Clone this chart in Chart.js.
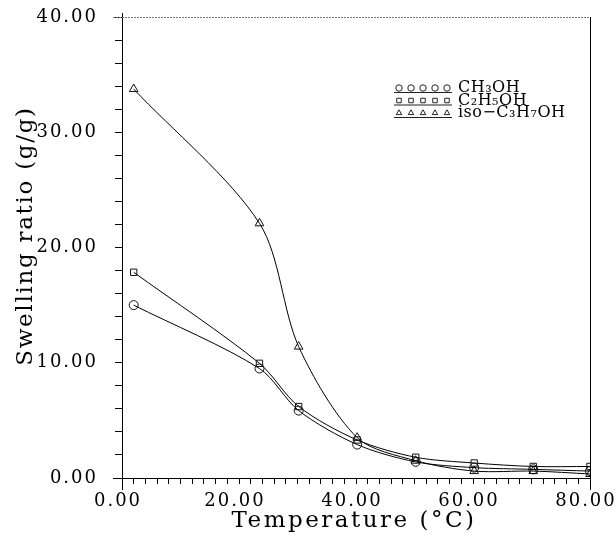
<!DOCTYPE html>
<html>
<head>
<meta charset="utf-8">
<script src="https://cdn.jsdelivr.net/npm/chart.js@4.4.1/dist/chart.umd.min.js"></script>
<style>
html,body{margin:0;padding:0;background:#fff;}
#wrap{position:relative;width:616px;height:537px;}
</style>
</head>
<body>
<div id="wrap"><canvas id="c" width="616" height="537"></canvas></div>
<script>
// Data
const temperatures = [2.0, 23.5, 30.2, 40.2, 50.2, 60.2, 70.3, 80.0];
const methanol     = [15.0, 9.5, 5.85, 2.9, 1.4, 0.9, 0.75, 0.6];
const ethanol      = [17.85, 9.95, 6.2, 3.3, 1.8, 1.3, 1.0, 1.0];
const isopropanol  = [33.75, 22.1, 11.4, 3.5, 1.5, 0.6, 0.6, 0.35];
const seriesLabels = ['CH\u2083OH', 'C\u2082H\u2085OH', 'iso\u2212C\u2083H\u2087OH'];
const xTickLabels = [0, 20, 40, 60, 80];
const yTickLabels = [0, 10, 20, 30, 40];
const xTitle = 'Temperature (\u00B0C)';
const yTitle = 'Swelling ratio (g/g)';

const SERIF = '"DejaVu Serif", "Liberation Serif", serif';
const pts = a => a.map((v, i) => ({x: temperatures[i], y: v}));
const styles = ['circle', 'rect', 'triangle'];
const seriesData = [methanol, ethanol, isopropanol];

const datasets = seriesData.map((d, i) => ({
  label: seriesLabels[i],
  data: pts(d),
  borderColor: '#000',
  borderWidth: 1,
  backgroundColor: 'rgba(0,0,0,0)',
  pointStyle: styles[i],
  pointRadius: i === 2 ? 5 : 4.5,
  pointBorderWidth: 1,
  pointBorderColor: '#111',
  pointBackgroundColor: 'rgba(0,0,0,0)',
  tension: 0.3,
  fill: false
}));

const spacingPlugin = {
  id: 'spacing',
  beforeDraw(chart) { chart.ctx.letterSpacing = '2px'; }
};

const framePlugin = {
  id: 'frame',
  afterDraw(chart) {
    const {ctx, chartArea: a} = chart;
    ctx.save();
    ctx.strokeStyle = '#000';
    ctx.lineWidth = 1;
    ctx.beginPath();
    ctx.moveTo(a.left + 0.5, a.top - 4); ctx.lineTo(a.left + 0.5, a.bottom + 12);
    ctx.moveTo(a.left - 9, a.bottom + 0.5); ctx.lineTo(a.right, a.bottom + 0.5);
    ctx.moveTo(a.right + 0.5, a.top); ctx.lineTo(a.right + 0.5, a.bottom + 12);
    ctx.stroke();
    ctx.strokeStyle = '#777';
    ctx.setLineDash([2, 1]);
    ctx.beginPath();
    ctx.moveTo(a.left - 9, a.top + 0.5); ctx.lineTo(a.right, a.top + 0.5);
    ctx.stroke();
    ctx.setLineDash([]);

    // axis titles
    ctx.fillStyle = '#000';
    ctx.font = '23px ' + SERIF;
    ctx.textAlign = 'center';
    ctx.textBaseline = 'middle';
    ctx.letterSpacing = '2.5px';
    ctx.fillText(xTitle, 354, 521);
    ctx.save();
    ctx.letterSpacing = '1.7px';
    ctx.translate(26, 236);
    ctx.rotate(-Math.PI / 2);
    ctx.fillText(yTitle, 0, 0);
    ctx.restore();

    // legend
    const x0 = 399, dx = 12, y0 = 88, dy = 12.5;
    ctx.strokeStyle = '#222';
    chart.data.datasets.forEach((ds, i) => {
      const y = y0 + i * dy;
      for (let k = 0; k < 5; k++) {
        ctx.fillStyle = 'rgba(0,0,0,0)';
        Chart.helpers.drawPoint(ctx, {pointStyle: ds.pointStyle, radius: 3.2, borderWidth: 1, rotation: 0}, x0 + k * dx, y);
      }
      ctx.beginPath();
      ctx.moveTo(x0 - 5, y + 4.5); ctx.lineTo(x0 + 4 * dx + 5, y + 4.5);
      ctx.stroke();
      ctx.fillStyle = '#000';
      ctx.font = '16px ' + SERIF;
      ctx.letterSpacing = '0.5px';
      ctx.textBaseline = 'middle';
      ctx.textAlign = 'left';
      ctx.fillText(ds.label, 458, y);
    });
    ctx.restore();
  }
};

function noPad(s) { s.paddingTop = 0; s.paddingBottom = 0; s.paddingLeft = 0; s.paddingRight = 0; }

new Chart(document.getElementById('c'), {
  type: 'line',
  data: {datasets},
  options: {
    responsive: false,
    animation: false,
    layout: {padding: {top: 17, right: 26, left: 0, bottom: 0}},
    plugins: {legend: {display: false}, tooltip: {enabled: false}},
    scales: {
      x: {
        type: 'linear', min: 0, max: 80,
        afterFit(s) { s.height = 59; noPad(s); },
        ticks: {
          stepSize: 2, autoSkip: false, maxRotation: 0, padding: 7, labelOffset: -4,
          color: '#000', font: {family: SERIF, size: 18},
          callback: v => xTickLabels.includes(v) ? v.toFixed(2) : ''
        },
        grid: {drawOnChartArea: false, drawTicks: true, tickLength: 6, color: '#000', tickColor: '#000'},
        border: {display: false},
        title: {display: false}
      },
      y: {
        type: 'linear', min: 0, max: 40,
        afterFit(s) { s.width = 122; noPad(s); },
        ticks: {
          stepSize: 2, autoSkip: false, padding: 17,
          color: '#000', font: {family: SERIF, size: 18},
          callback: v => yTickLabels.includes(v) ? v.toFixed(2) : ''
        },
        grid: {drawOnChartArea: false, drawTicks: true, tickLength: 7, color: '#000', tickColor: '#000'},
        border: {display: false},
        title: {display: false}
      }
    }
  },
  plugins: [spacingPlugin, framePlugin]
});
</script>
</body>
</html>
